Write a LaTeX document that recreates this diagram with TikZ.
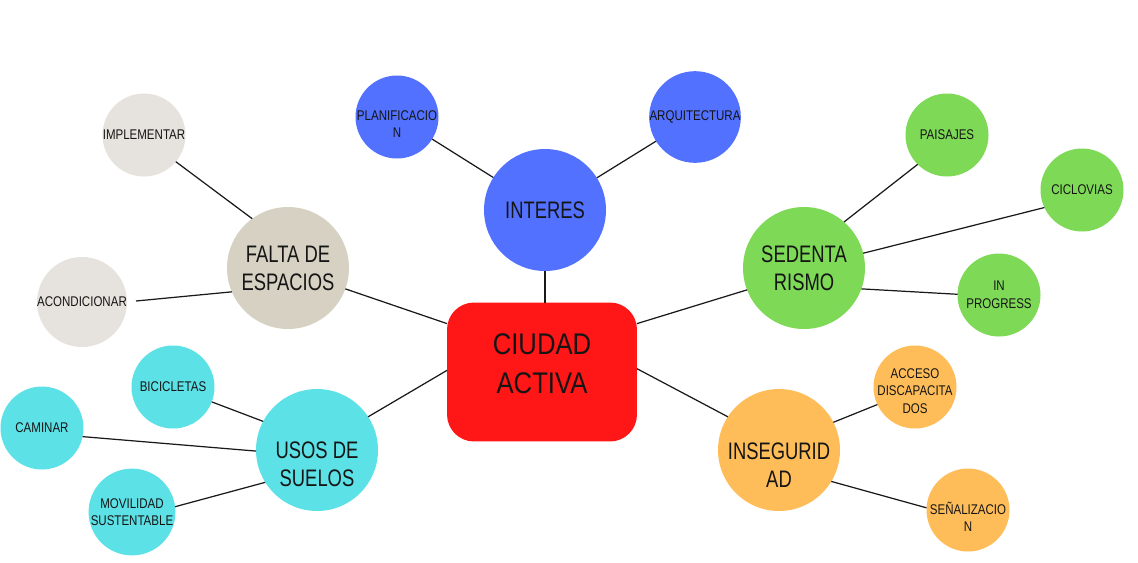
\documentclass[tikz,border=0pt]{standalone}
\usepackage{fontspec}
\setmainfont[FakeStretch=0.82]{Liberation Sans}
\newfontfamily\bigf[FakeStretch=0.77]{Liberation Sans}
\newfontfamily\cityf[FakeStretch=0.86]{Liberation Sans}
\usetikzlibrary{calc}
\definecolor{cred}{HTML}{FF1616}
\definecolor{cblue}{HTML}{5271FF}
\definecolor{cgreen}{HTML}{7ED957}
\definecolor{corange}{HTML}{FFBD59}
\definecolor{ccyan}{HTML}{5CE1E6}
\definecolor{cbeige}{HTML}{D6D1C2}
\definecolor{cgrey}{HTML}{E6E3DE}
\definecolor{ctext}{HTML}{151515}
\begin{document}
\begin{tikzpicture}[x=0.02cm,y=-0.02cm,
  every node/.style={inner sep=0pt,outer sep=0pt,text=ctext,align=center},
  city/.style={fill=cred,rounded corners=0.54cm,minimum width=3.8cm,minimum height=2.78cm},
  citytxt/.style={font=\cityf\fontsize{17}{22.2}\selectfont},
  bigc/.style={circle,minimum size=2.44cm,font=\bigf\fontsize{13.6}{15.9}\selectfont},
  bigtxt/.style={font=\bigf\fontsize{13.6}{15.9}\selectfont},
  smallc/.style={circle,minimum size=1.66cm,font=\fontsize{8}{10}\selectfont},
  smalltxt/.style={font=\fontsize{8}{10}\selectfont},
  conn/.style={draw=black!90,line width=0.7pt}]
\useasboundingbox (0,0) rectangle (1138,562);
\fill[white] (0,0) rectangle (1138,562);
% central
\node[city] (city) at (542,372) {};
\node[citytxt] (cityT) at ($(city)+(0,-8)$) {CIUDAD\\ACTIVA};
% big circles
\node[bigc,fill=cblue] (interes) at (545,210) {INTERES};
\node[bigc,fill=cbeige] (falta) at (288,268) {FALTA DE\\ESPACIOS};
\node[bigc,fill=ccyan] (usos) at (317,450) {};
\node[bigtxt] (usosT) at ($(usos)+(0,14)$) {USOS DE\\SUELOS};
\node[bigc,fill=cgreen] (sed) at (804,268) {SEDENTA\\RISMO};
\node[bigc,fill=corange] (inseg) at (779,450) {};
\node[bigtxt] (insegT) at ($(inseg)+(0,15)$) {INSEGURID\\AD};
% small circles
\node[smallc,fill=cblue] (planif) at (397,117) {};
\node[smalltxt] (planifT) at ($(planif)+(0,7)$) {PLANIFICACIO\\N};
\node[smallc,fill=cblue] (arq) at (695,117) {ARQUITECTURA};
\node[smallc,fill=cgrey] (impl) at (144,135) {IMPLEMENTAR};
\node[smallc,fill=cgrey] (acond) at (82,302) {ACONDICIONAR};
\node[smallc,fill=ccyan] (bici) at (173,387) {BICICLETAS};
\node[smallc,fill=ccyan] (cam) at (42,428) {CAMINAR};
\node[smallc,fill=ccyan] (mov) at (132,512) {MOVILIDAD\\SUSTENTABLE};
\node[smallc,fill=cgreen] (pais) at (947,135) {PAISAJES};
\node[smallc,fill=cgreen] (cic) at (1082,190) {CICLOVIAS};
\node[smallc,fill=cgreen] (inp) at (999,295) {IN\\PROGRESS};
\node[smallc,fill=corange] (acc) at (915,387) {};
\node[smalltxt] (accT) at ($(acc)+(0,4)$) {ACCESO\\DISCAPACITA\\DOS};
\node[smallc,fill=corange] (sen) at (968,510) {};
\node[smalltxt] (senT) at ($(sen)+(0,7)$) {SEÑALIZACIO\\N};
% connectors
\draw[conn] (interes.south) -- (interes.south |- city.north);
\draw[conn] (planif) -- (interes);
\draw[conn] (arq) -- (interes);
\draw[conn] (impl.-40) -- (falta.126);
\draw[conn] ($(acond.east)+(9,-1)$) -- (falta.-157);
\draw[conn] (falta.-20) -- (city.153);
\draw[conn] (bici.-21) -- (usos.152);
\draw[conn] (cam.-12) -- (usos.181);
\draw[conn] (mov.7) -- (usos.212);
\draw[conn] (usos.33) -- (city.179);
\draw[conn] (pais.225) -- (sed.49);
\draw[conn] (cic.205) -- (sed.14);
\draw[conn] (inp.179) -- (sed.-20);
\draw[conn] (sed.201) -- (city.27);
\draw[conn] (acc.205) -- (inseg.27);
\draw[conn] (sen.177) -- (inseg.-31);
\draw[conn] (inseg.147) -- (city.2);
\end{tikzpicture}
\end{document}
